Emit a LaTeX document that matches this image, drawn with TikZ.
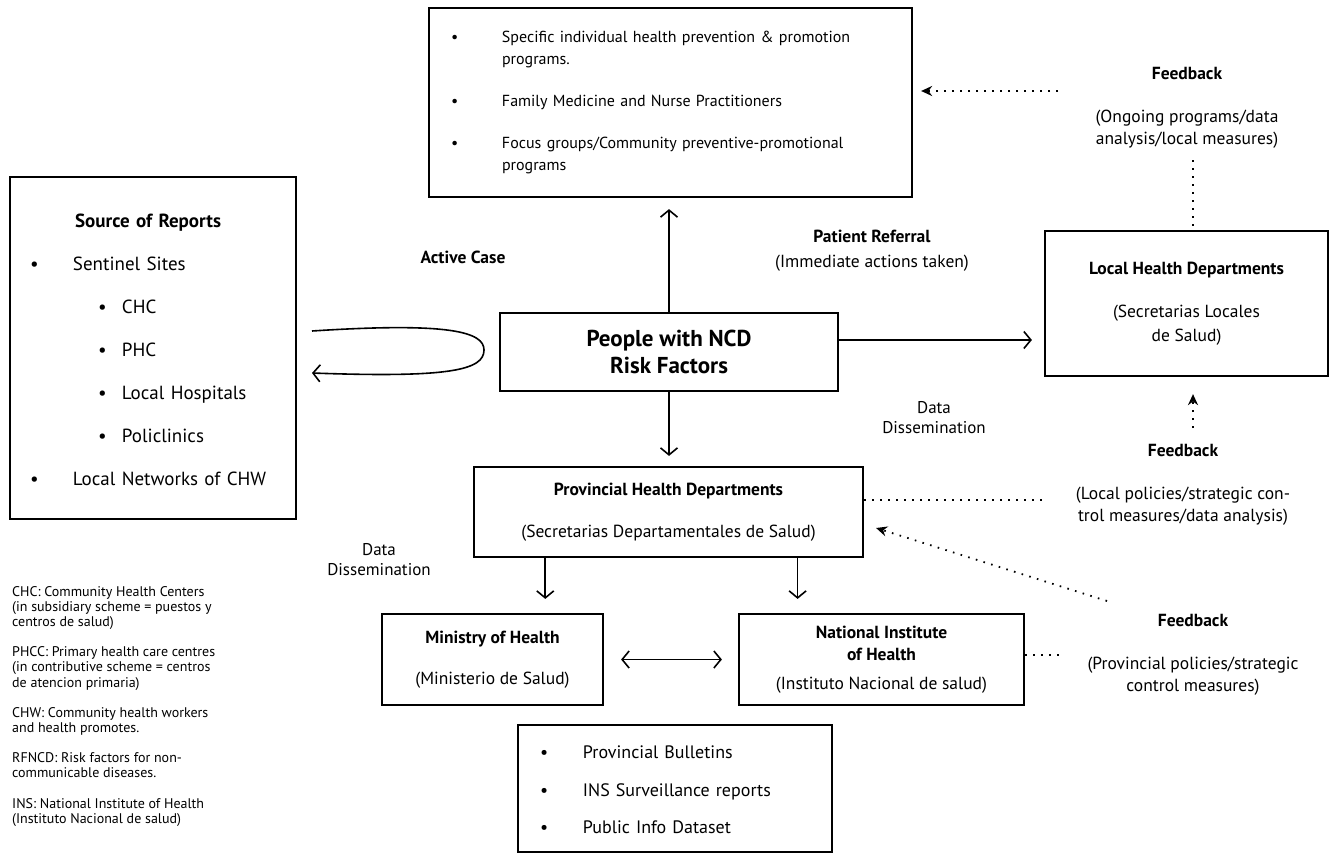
\documentclass[tikz,border=0pt]{standalone}
\usepackage{fontspec}
\setmainfont{PT Sans}
\usetikzlibrary{arrows.meta,calc,positioning}

\tikzset{
  box/.style={draw, line width=2.2pt, inner sep=0pt, align=center},
  arr/.style={line width=1.6pt, -{Straight Barb[length=7pt,width=17pt]}},
  darr/.style={line width=1.6pt, {Straight Barb[length=7pt,width=17pt]}-{Straight Barb[length=7pt,width=17pt]}},
  fbline/.style={line width=1.8pt, dash pattern=on 1.6pt off 6.4pt},
  fbarr/.style={fbline, -{Stealth[length=11pt,width=10pt]}},
  lbl/.style={align=center, font=\fontsize{17.5}{22}\selectfont},
}

\begin{document}
\begin{tikzpicture}[x=1pt,y=-1pt]
  \useasboundingbox (0,0) rectangle (1332,856);

  \node[box, minimum width=483pt, minimum height=189pt, text width=439pt, align=left,
        font=\fontsize{16}{22}\selectfont] (prog) at (670.5,102.5) {%
    \begin{tabular}{@{}p{51pt}@{}l@{}}
      \textbullet & Specific individual health prevention \& promotion\\
                  & programs.\\[20pt]
      \textbullet & Family Medicine and Nurse Practitioners\\[20pt]
      \textbullet & Focus groups/Community preventive-promotional\\
                  & programs
    \end{tabular}};

  \node[box, minimum width=286pt, minimum height=342pt, text width=246pt, align=left,
        font=\fontsize{19}{43}\selectfont] (src) at (153,348) {%
    \begin{tabular}{@{}p{43pt}@{}p{25pt}@{}p{24pt}@{}l@{}}
      \multicolumn{4}{c}{\bfseries Source of Reports}\\
      \textbullet & \multicolumn{3}{@{}l@{}}{Sentinel Sites}\\
      & & \textbullet & CHC\\
      & & \textbullet & PHC\\
      & & \textbullet & Local Hospitals\\
      & & \textbullet & Policlinics\\
      \textbullet & \multicolumn{3}{@{}l@{}}{Local Networks of CHW}
    \end{tabular}};

  \node[box, minimum width=338pt, minimum height=78pt,
        font=\fontsize{23}{27}\selectfont\bfseries] (ncd) at (669,352) {People with NCD\\Risk Factors};

  \node[box, minimum width=283pt, minimum height=145pt,
        font=\fontsize{17.5}{24}\selectfont] (loc) at (1186.5,303.5)
        {\textbf{Local Health Departments}\\[19pt](Secretarias Locales\\de Salud)};

  \node[box, minimum width=389pt, minimum height=90pt,
        font=\fontsize{17.5}{24}\selectfont] (prov) at (668.5,512)
        {\textbf{Provincial Health Departments}\\[18pt](Secretarias Departamentales de Salud)};

  \node[box, minimum width=221pt, minimum height=91pt,
        font=\fontsize{17.5}{24}\selectfont] (mini) at (492.5,659.5)
        {\textbf{Ministry of Health}\\[17pt](Ministerio de Salud)};

  \node[box, minimum width=285pt, minimum height=91pt,
        font=\fontsize{17.5}{22}\selectfont] (nih) at (881.5,659.5)
        {\textbf{National Institute}\\\textbf{of Health}\\[7pt](Instituto Nacional de salud)};

  \node[box, minimum width=314pt, minimum height=127pt, text width=270pt, align=left,
        font=\fontsize{18}{37.5}\selectfont] (pub) at (675,788.5) {%
    \begin{tabular}{@{}p{43pt}@{}l@{}}
      \textbullet & Provincial Bulletins\\
      \textbullet & INS Surveillance reports\\
      \textbullet & Public Info Dataset
    \end{tabular}};

  \node[lbl, font=\fontsize{17.5}{22}\selectfont\bfseries] (active) at (463,257) {Active Case};
  \node[lbl] (referral) at (872,250.5) {\textbf{Patient Referral}\\[3pt](Immediate actions taken)};
  \node[lbl, font=\fontsize{17}{20}\selectfont] (dissR) at (934,418) {Data\\Dissemination};
  \node[lbl, font=\fontsize{17}{20}\selectfont] (dissL) at (379,560) {Data\\Dissemination};
  \node[lbl] (fbA) at (1187,107.5) {\textbf{Feedback}\\[21pt](Ongoing programs/data\\analysis/local measures)};
  \node[lbl] (fbB) at (1183,485) {\textbf{Feedback}\\[21pt](Local policies/strategic con-\\trol measures/data analysis)};
  \node[lbl] (fbC) at (1193,654.5) {\textbf{Feedback}\\[21pt](Provincial policies/strategic\\control measures)};

  \node[anchor=north west, align=left, inner sep=0pt,
        font=\fontsize{14}{15.2}\selectfont] (legend) at (12,586) {%
    CHC: Community Health Centers\\(in subsidiary scheme = puestos y\\centros de salud)\\[15pt]
    PHCC: Primary health care centres\\(in contributive scheme = centros\\de atencion primaria)\\[15pt]
    CHW: Community health workers\\and health promotes.\\[15pt]
    RFNCD: Risk factors for non-\\communicable diseases.\\[15pt]
    INS: National Institute of Health\\(Instituto Nacional de salud)};

  \draw[arr, shorten >=11pt] (ncd.north) -- (ncd.north |- prog.south);
  \draw[arr, shorten >=10pt] (ncd.south) -- (ncd.south |- prov.north);
  \draw[arr, shorten >=12pt] ([yshift=12pt]ncd.east) -- ([yshift=12pt]ncd.east -| loc.west);

  \coordinate (la) at (312,331);
  \coordinate (lb) at (312,373);
  \draw[arr] (la) .. controls (450,322) and (484,332) .. (484,350)
                  .. controls (484,370) and (450,378) .. (lb);

  \coordinate (p1) at ($(prov.south west)!0.185!(prov.south east)$);
  \coordinate (p2) at ($(prov.south west)!0.83!(prov.south east)$);
  \draw[arr, shorten >=14pt] (p1) -- (p1 |- mini.north);
  \draw[arr, shorten >=14pt] (p2) -- (p2 |- nih.north);
  \draw[darr, shorten <=17pt, shorten >=16pt] (mini) -- (nih);

  \coordinate (f1) at (1058,91);
  \coordinate (f1b) at (1193,160);
  \coordinate (f2) at (1193,428);
  \coordinate (f2b) at (1048,500);
  \coordinate (f3) at (1107,601);
  \coordinate (f3b) at (1065,655);
  \draw[fbarr, shorten >=8pt] (f1) -- (f1 -| prog.east);
  \draw[fbline] (f1b) -- (f1b |- loc.north);
  \draw[fbarr, shorten >=17pt] (f2) -- (f2 |- loc.south);
  \draw[fbline] ([yshift=12pt]prov.east) -- (f2b);
  \draw[fbarr] (f3) -- ([shift={(12pt,-16pt)}]prov.east);
  \draw[fbline] (nih.east |- f3b) -- (f3b);
\end{tikzpicture}
\end{document}
